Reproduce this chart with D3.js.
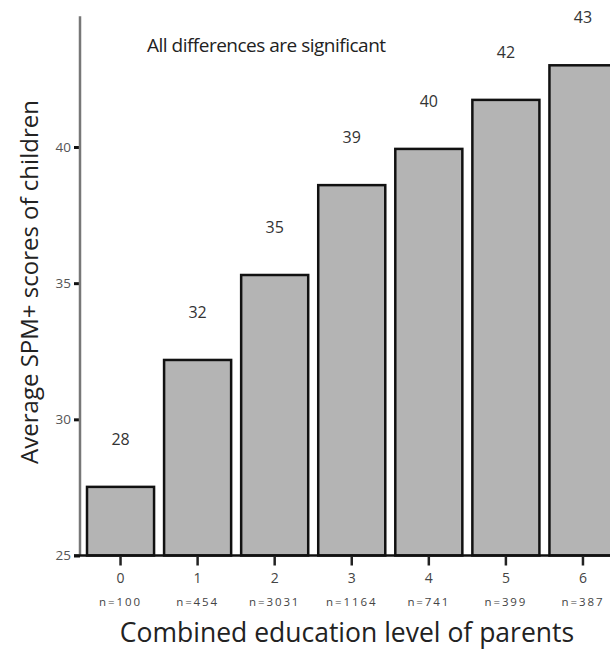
<!DOCTYPE html>
<html><head><meta charset="utf-8">
<script src="https://cdn.jsdelivr.net/npm/d3@7"></script>
<style>body{margin:0;background:#fff;}svg{display:block;}</style>
</head><body>
<svg id="c" width="610" height="659"></svg>
<script>
const categories = ["0","1","2","3","4","5","6"];
const counts = ["n=100","n=454","n=3031","n=1164","n=741","n=399","n=387"];
const values = [27.52, 32.18, 35.3, 38.6, 39.93, 41.73, 43.0];
const valueLabels = ["28","32","35","39","40","42","43"];
const yTicks = [25, 30, 35, 40];

const svg = d3.select("#c");
const font = "'Open Sans', sans-serif";

const x = d3.scaleBand().domain(categories).range([82, 621.5]).paddingInner(0.13).paddingOuter(0.065);
const y = d3.scaleLinear().domain([25, 40]).range([555.5, 147]);
const yTop = 44.8;

// bars
svg.append("g").selectAll("rect").data(values).join("rect")
  .attr("x", (d,i) => x(categories[i]))
  .attr("y", d => y(d))
  .attr("width", x.bandwidth())
  .attr("height", d => y(25) - y(d))
  .attr("fill", "#b4b4b4")
  .attr("stroke", "#111")
  .attr("stroke-width", 2.5);

// value labels
svg.append("g").selectAll("text").data(values).join("text")
  .attr("x", (d,i) => x(categories[i]) + x.bandwidth()/2)
  .attr("y", d => y(d) - 42)
  .attr("text-anchor", "middle")
  .attr("font-family", font).attr("font-size", 16).attr("fill", "#333")
  .text((d,i) => valueLabels[i]);

// y axis
const yAxis = d3.axisLeft(y).tickValues(yTicks).tickSize(6).tickPadding(3);
const gy = svg.append("g").attr("transform", "translate(80,0)").call(yAxis);
gy.select(".domain").remove();
gy.selectAll(".tick line").attr("stroke", "#111").attr("stroke-width", 3);
gy.selectAll(".tick text").attr("font-family", font).attr("font-size", 13.5).attr("fill", "#555");
svg.append("line").attr("x1", 80).attr("x2", 80).attr("y1", y(yTop)).attr("y2", y(25))
  .attr("stroke", "#777").attr("stroke-width", 2.5);

// x axis
svg.append("line").attr("x1", 74).attr("x2", 610).attr("y1", y(25)).attr("y2", y(25))
  .attr("stroke", "#111").attr("stroke-width", 2.5);
const xAxis = d3.axisBottom(x).tickSize(9).tickPadding(8);
const gx = svg.append("g").attr("transform", `translate(0,${y(25)+1})`).call(xAxis);
gx.select(".domain").remove();
gx.selectAll(".tick line").attr("stroke", "#222").attr("stroke-width", 2.5);
gx.selectAll(".tick text").attr("font-family", font).attr("font-size", 14).attr("fill", "#444");
gx.selectAll(".tick").append("text")
  .attr("y", 49).attr("text-anchor", "middle")
  .attr("font-family", font).attr("font-size", 11.5).attr("fill", "#444")
  .attr("letter-spacing", 1.9)
  .text((d,i) => counts[i]);

// titles
svg.append("text").attr("x", 347).attr("y", 642).attr("text-anchor", "middle")
  .attr("font-family", font).attr("font-size", 26.5).attr("fill", "#222")
  .text("Combined education level of parents");
svg.append("text").attr("transform", "translate(38,282) rotate(-90)").attr("text-anchor", "middle")
  .attr("font-family", font).attr("font-size", 24).attr("fill", "#222")
  .text("Average SPM+ scores of children");

svg.append("text").attr("x", 147).attr("y", 52)
  .attr("font-family", font).attr("font-size", 19).attr("fill", "#222")
  .attr("letter-spacing", -0.5)
  .text("All differences are significant");
</script>
</body></html>
